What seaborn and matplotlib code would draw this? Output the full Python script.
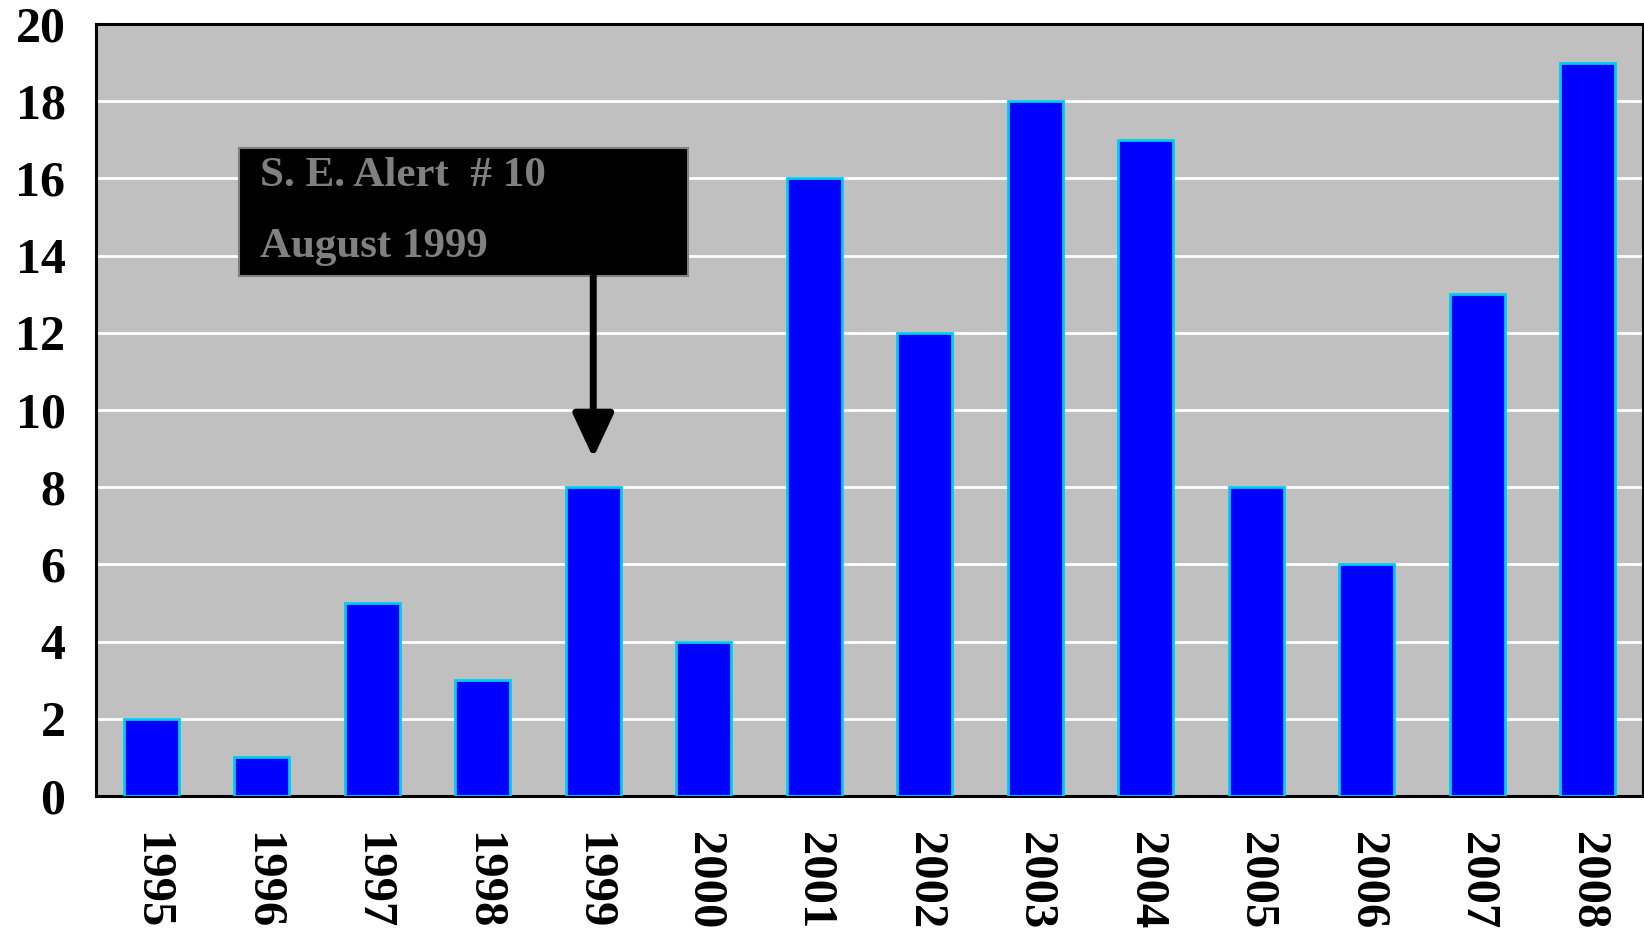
import seaborn as sns
import matplotlib.pyplot as plt
from matplotlib.patches import Rectangle
import pandas as pd

years = ["1995", "1996", "1997", "1998", "1999", "2000", "2001",
         "2002", "2003", "2004", "2005", "2006", "2007", "2008"]
counts = [2, 1, 5, 3, 8, 4, 16, 12, 18, 17, 8, 6, 13, 19]
note_lines = ["S. E. Alert  # 10", "August 1999"]

df = pd.DataFrame({"year": years, "count": counts})

sns.set_style("whitegrid", {"axes.facecolor": "#C0C0C0", "grid.color": "white",
                            "axes.edgecolor": "black", "text.color": "black",
                            "xtick.color": "black", "ytick.color": "black"})
plt.rcParams["font.family"] = ["Liberation Serif", "DejaVu Serif"]

fig = plt.figure(figsize=(16.44, 9.32), dpi=100)
ax = fig.add_axes([96 / 1644, 1 - 796 / 932, 1547 / 1644, 772 / 932])

sns.barplot(data=df, x="year", y="count", color="#0000FF", saturation=1,
            width=0.5, edgecolor="#00CCEE", linewidth=2, ax=ax, zorder=3)

ax.set_ylim(0, 20)
ax.set_xlim(-0.5, len(years) - 0.5)
ax.set_yticks(range(0, 21, 2))
ax.grid(axis="x", visible=False)
ax.grid(axis="y", color="white", linewidth=2, zorder=0)
ax.set_axisbelow(True)
ax.set_xlabel("")
ax.set_ylabel("")
for s in ax.spines.values():
    s.set_linewidth(2.2)
    s.set_color("black")

ax.tick_params(axis="y", length=0, pad=22, labelsize=36, labelcolor="black")
ax.tick_params(axis="x", length=0, pad=26, labelsize=35, labelcolor="black")
for lab in ax.get_yticklabels() + ax.get_xticklabels():
    lab.set_fontweight("bold")
for lab in ax.get_xticklabels():
    lab.set_rotation(-90)

# annotation box with arrow to the 1999 bar
ax.add_patch(Rectangle((0.794, 13.47), 4.063, 3.33, facecolor="black",
                       edgecolor="#808080", linewidth=1.5, zorder=5))
ax.text(0.98, 15.81, note_lines[0], color="#808080", fontsize=31,
        fontweight="bold", zorder=6, va="baseline")
ax.text(0.98, 13.96, note_lines[1], color="#808080", fontsize=31,
        fontweight="bold", zorder=6, va="baseline")
ax.annotate("", xy=(4, 8.76), xytext=(4, 13.47),
            arrowprops=dict(arrowstyle="-|>,head_length=0.9,head_width=0.42",
                            mutation_scale=30, color="black", lw=5,
                            shrinkA=0, shrinkB=0),
            zorder=6)

fig.savefig("out.png", dpi=100)
